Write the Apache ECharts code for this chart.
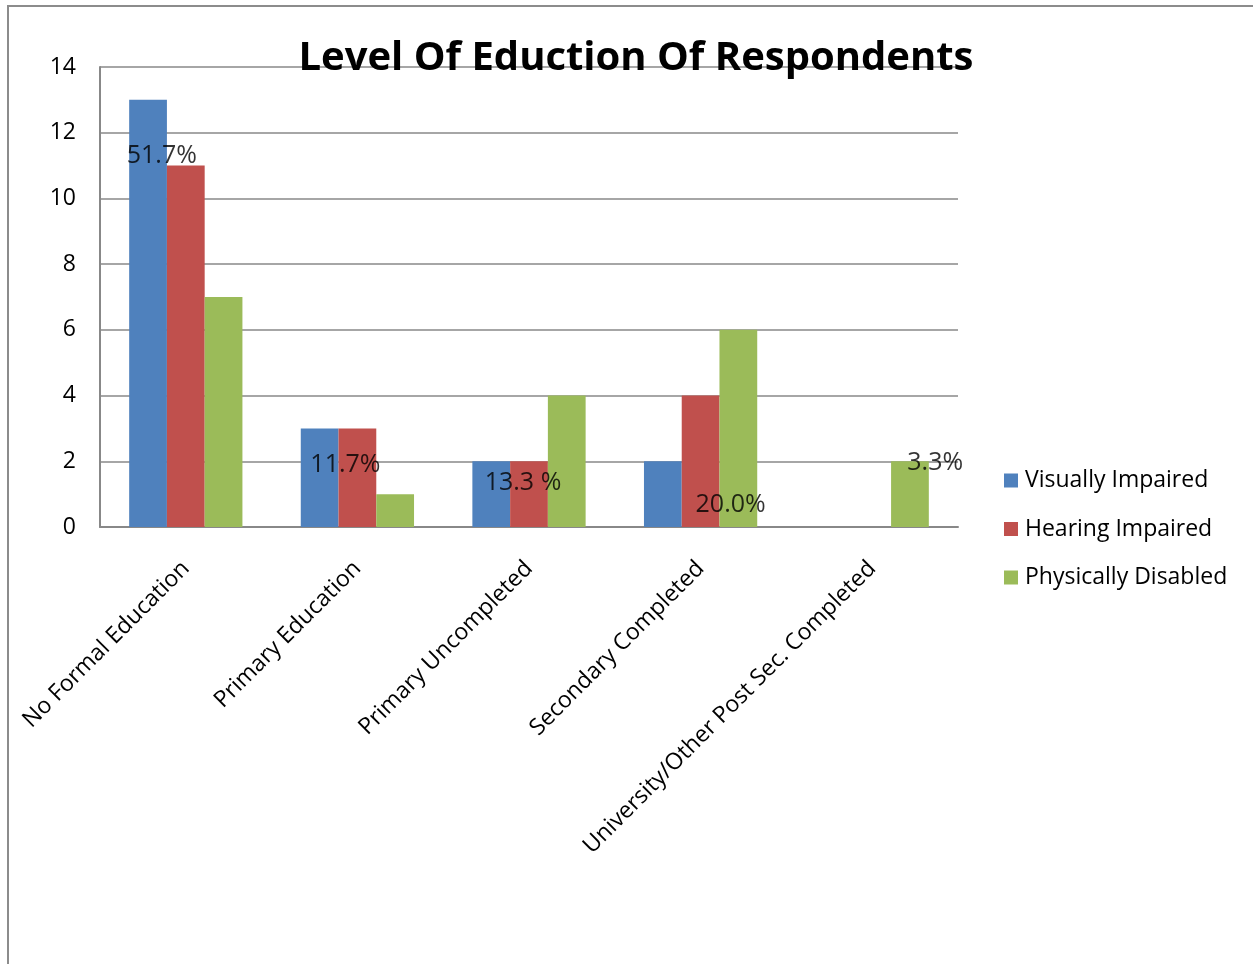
<!DOCTYPE html>
<html>
<head>
<meta charset="utf-8">
<script src="https://cdn.jsdelivr.net/npm/echarts@6/dist/echarts.min.js"></script>
<style>
    * { margin: 0; padding: 0; }
    html, body { width: 1253px; height: 964px; background: #fff; overflow: hidden; }
    #main { width: 1253px; height: 964px; }
</style>
</head>
<body>
<div id="main"></div>
<script>
    const categories = ['No Formal Education', 'Primary Education', 'Primary Uncompleted', 'Secondary Completed', 'University/Other Post Sec. Completed']
    const visually = [13, 3, 2, 2, 0]
    const hearing = [11, 3, 2, 4, 0]
    const physically = [7, 1, 4, 6, 2]
    const percentLabels = ['51.7%', '11.7%', '13.3 %', '20.0%', '3.3%']
    const yTicks = [0, 2, 4, 6, 8, 10, 12, 14]

    const font = '"Open Sans", Lato, sans-serif'
    let myChart = echarts.init(document.getElementById('main'))

    // where the percentage notes sit, as in the original sheet
    const notePlace = [
        {value: 11.3, dx: -24},
        {value: 1.89, dx: -12},
        {value: 1.34, dx: -6},
        {value: 0.67, dx: 30},
        {value: 1.95, dx: 63}
    ]

    let option = {
        animation: false,
        title: {
            text: 'Level Of Eduction Of Respondents',
            left: 631,
            textAlign: 'center',
            top: 34,
            textStyle: {
                fontFamily: font,
                fontSize: 40,
                fontWeight: 'bold',
                color: '#000'
            }
        },
        graphic: [{
            type: 'rect',
            shape: {x: 8, y: 6, width: 1400, height: 1100},
            style: {fill: 'none', stroke: '#8c8c8c', lineWidth: 2},
            silent: true,
            z: -1
        }],
        legend: {
            orient: 'vertical',
            left: 999,
            top: 464,
            itemWidth: 14,
            itemHeight: 14,
            itemGap: 25.5,
            icon: 'rect',
            data: ['Visually Impaired', 'Hearing Impaired', 'Physically Disabled'],
            textStyle: {
                fontFamily: font,
                fontSize: 23,
                color: '#000',
                padding: [0, 0, 0, 2]
            }
        },
        grid: {
            left: 100,
            right: 295,
            top: 67,
            bottom: 437,
            containLabel: false
        },
        xAxis: {
            type: 'category',
            data: categories,
            axisLine: {lineStyle: {color: '#888', width: 2}},
            axisTick: {show: false},
            axisLabel: {
                rotate: 45,
                interval: 0,
                margin: 38,
                fontFamily: font,
                fontSize: 23,
                color: '#000'
            }
        },
        yAxis: {
            type: 'value',
            min: yTicks[0],
            max: yTicks[yTicks.length - 1],
            interval: 2,
            axisLine: {show: true, lineStyle: {color: '#888', width: 2}},
            axisTick: {show: false},
            axisLabel: {
                margin: 24,
                fontFamily: font,
                fontSize: 23,
                color: '#000'
            },
            splitLine: {lineStyle: {color: '#888', width: 1.5}}
        },
        series: [
            {
                name: 'Visually Impaired',
                type: 'bar',
                data: visually,
                barGap: '0%',
                barCategoryGap: '34%',
                itemStyle: {color: '#4F81BD'}
            },
            {
                name: 'Hearing Impaired',
                type: 'bar',
                data: hearing,
                itemStyle: {color: '#C0504D'}
            },
            {
                name: 'Physically Disabled',
                type: 'bar',
                data: physically,
                itemStyle: {color: '#9BBB59'}
            },
            {
                name: 'notes',
                type: 'scatter',
                symbolSize: 0,
                silent: true,
                z: 10,
                data: percentLabels.map(function (t, i) {
                    return {
                        value: [i, notePlace[i].value],
                        label: {
                            show: true,
                            formatter: t,
                            offset: [notePlace[i].dx, 0],
                            position: 'inside',
                            fontFamily: font,
                            fontSize: 25,
                            color: '#000'
                        }
                    }
                })
            }
        ]
    }
    myChart.setOption(option)
</script>
</body>
</html>
